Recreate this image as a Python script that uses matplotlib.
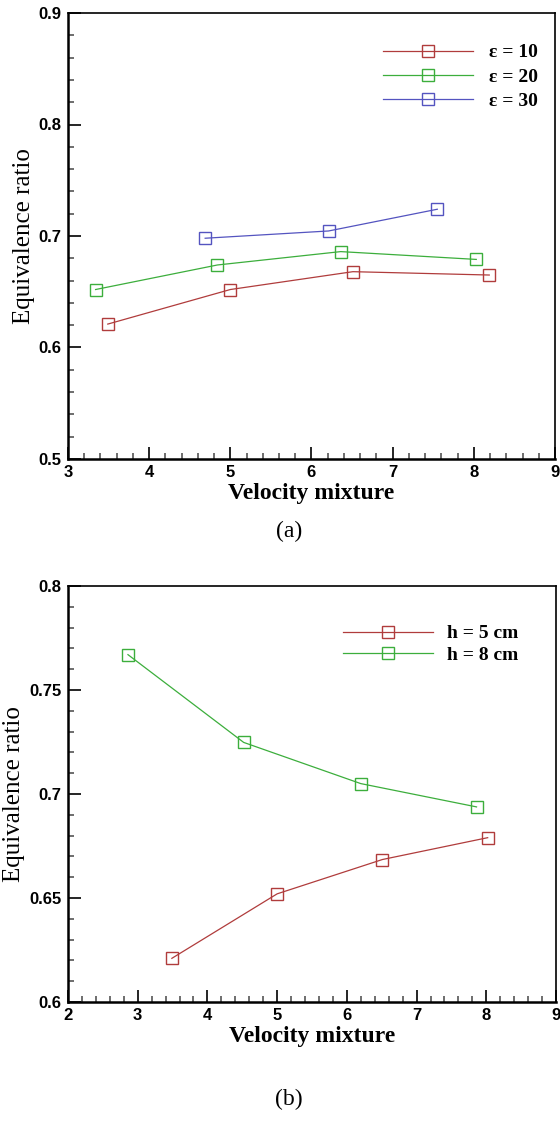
import matplotlib
matplotlib.use("Agg")
import matplotlib.pyplot as plt
from matplotlib.ticker import MultipleLocator

# panel (a): effect of epsilon
vel_e10 = [3.49, 5.0, 6.51, 8.19]
phi_e10 = [0.621, 0.652, 0.668, 0.665]
vel_e20 = [3.34, 4.84, 6.36, 8.03]
phi_e20 = [0.652, 0.674, 0.686, 0.679]
vel_e30 = [4.69, 6.21, 7.55]
phi_e30 = [0.698, 0.7045, 0.724]
labels_a = ["ε = 10", "ε = 20", "ε = 30"]

# panel (b): effect of h
vel_h5 = [3.49, 5.0, 6.51, 8.02]
phi_h5 = [0.621, 0.652, 0.6685, 0.679]
vel_h8 = [2.86, 4.52, 6.2, 7.86]
phi_h8 = [0.767, 0.7248, 0.705, 0.6938]
labels_b = ["h = 5 cm", "h = 8 cm"]

RED = "#b03c3c"
GREEN = "#3cae3c"
BLUE = "#5454c0"

W, H = 560, 1121
fig = plt.figure(figsize=(W / 100, H / 100), dpi=100)


def style_axes(ax, xlim, ylim, ymajor, yminor):
    ax.set_xlim(*xlim)
    ax.set_ylim(*ylim)
    ax.xaxis.set_major_locator(MultipleLocator(1))
    ax.xaxis.set_minor_locator(MultipleLocator(0.2))
    ax.yaxis.set_major_locator(MultipleLocator(ymajor))
    ax.yaxis.set_minor_locator(MultipleLocator(yminor))
    ax.tick_params(which="both", direction="in", top=False, right=False,
                   width=1.2, colors="black", pad=4.5)
    ax.tick_params(which="major", length=9)
    ax.tick_params(which="minor", length=4.5, color="#555555")
    for side in ["left", "bottom"]:
        ax.spines[side].set_linewidth(1.8)
    for side in ["top", "right"]:
        ax.spines[side].set_linewidth(1.2)
    ax.set_xlabel("Velocity mixture", family="Liberation Serif",
                  fontweight="bold", fontsize=17, labelpad=2)
    ax.set_ylabel("Equivalence ratio", family="Liberation Serif",
                  fontsize=18, labelpad=3)


mk = dict(marker="s", markersize=9, markerfacecolor="none",
          markeredgewidth=1.0, linewidth=0.9)
leg_font = dict(family="Liberation Serif", weight="bold", size=14)

# top panel
ax1 = fig.add_axes([68 / W, 1 - 459 / H, 487 / W, 446 / H])
ax1.plot(vel_e10, phi_e10, color=RED, markeredgecolor=RED, label=labels_a[0], **mk)
ax1.plot(vel_e20, phi_e20, color=GREEN, markeredgecolor=GREEN, label=labels_a[1], **mk)
ax1.plot(vel_e30, phi_e30, color=BLUE, markeredgecolor=BLUE, label=labels_a[2], **mk)
style_axes(ax1, (3, 9), (0.5, 0.9), 0.1, 0.02)
ax1.yaxis.set_major_formatter(plt.FuncFormatter(lambda v, p: "%.1f" % v))
ax1.legend(loc="upper right", frameon=False, handlelength=4.64,
           handletextpad=0.82, labelspacing=0.35, borderpad=0,
           bbox_to_anchor=(548 / W, 1 - 34 / H), bbox_transform=fig.transFigure,
           prop=leg_font)

# bottom panel
ax2 = fig.add_axes([68 / W, 1 - 1002 / H, 488 / W, 416 / H])
ax2.plot(vel_h5, phi_h5, color=RED, markeredgecolor=RED, label=labels_b[0], **mk)
ax2.plot(vel_h8, phi_h8, color=GREEN, markeredgecolor=GREEN, label=labels_b[1], **mk)
style_axes(ax2, (2, 9), (0.6, 0.8), 0.05, 0.01)
ax2.yaxis.set_major_formatter(plt.FuncFormatter(lambda v, p: ("%.2f" % v).rstrip("0").rstrip(".")))
ax2.legend(loc="upper right", frameon=False, handlelength=4.64,
           handletextpad=0.72, labelspacing=0.22, borderpad=0,
           bbox_to_anchor=(528 / W, 1 - 615 / H), bbox_transform=fig.transFigure,
           prop=leg_font)

for ax in (ax1, ax2):
    for lab in ax.get_xticklabels() + ax.get_yticklabels():
        lab.set_family("Liberation Sans")
        lab.set_fontweight("bold")
        lab.set_fontsize(12)

fig.text(289 / W, 1 - 531 / H, "(a)", ha="center", va="center",
         family="Liberation Serif", fontsize=17)
fig.text(289 / W, 1 - 1099 / H, "(b)", ha="center", va="center",
         family="Liberation Serif", fontsize=17)

fig.savefig("out.png", dpi=100)
